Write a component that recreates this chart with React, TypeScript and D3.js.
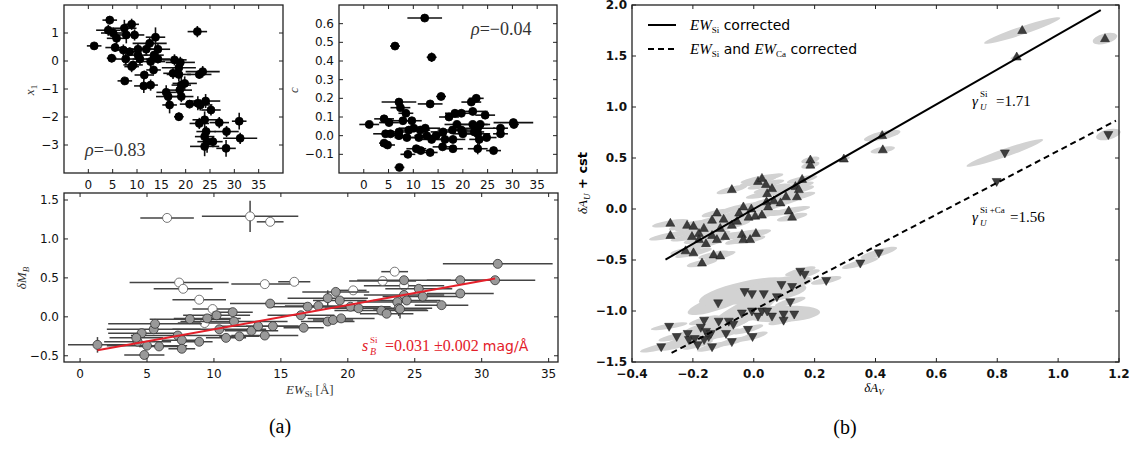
import React from 'react';
import * as d3 from 'd3';

// (a) top-left: EW_Si vs x1   [ew, x1, ewErr, x1Err]
const x1Points = [
  [4.4, 1.46, 1.5, 0.15], [1.2, 0.54, 1.5, 0.1], [4.1, 1.1, 2.5, 0.2], [7.4, 1.17, 2.5, 0.3],
  [8.9, 1.31, 1.5, 0.2], [5.8, 0.81, 2.0, 0.2], [7.8, 0.93, 2.5, 0.3], [9.5, 0.93, 2.0, 0.2],
  [5.5, 0.48, 2.0, 0.15], [7.2, 0.39, 2.0, 0.2], [4.8, 0.1, 1.0, 0.15], [7.7, 0.07, 2.5, 0.2],
  [10.2, 0.42, 3.0, 0.2], [10.6, 0.07, 1.5, 0.2], [12.6, 0.63, 3.5, 0.2], [13.8, 0.85, 2.0, 0.35],
  [11.9, 0.42, 3.0, 0.2], [14.3, 0.42, 2.5, 0.2], [14.3, 0.07, 2.5, 0.15], [12.8, -0.02, 3.0, 0.2],
  [9.2, -0.14, 2.0, 0.15], [8.9, -0.2, 1.5, 0.2], [13.4, -0.32, 1.5, 0.15], [11.5, -0.5, 2.0, 0.15],
  [7.5, -0.71, 1.5, 0.1], [11.4, -0.89, 2.0, 0.25], [12.8, -0.86, 1.5, 0.2], [17.7, 0.04, 2.5, 0.2],
  [18.9, -0.05, 3.0, 0.2], [18.6, -0.24, 3.5, 0.2], [17.4, -0.44, 2.0, 0.2], [18.6, -0.48, 2.5, 0.25],
  [22.8, -0.48, 2.5, 0.15], [23.5, -0.38, 3.5, 0.2], [22.4, 1.05, 2.0, 0.2], [19.8, -0.8, 2.5, 0.25],
  [19.1, -0.86, 2.0, 0.3], [18.8, -1.04, 2.5, 0.2], [16.0, -1.12, 2.0, 0.25], [16.4, -1.27, 2.5, 0.2],
  [19.1, -1.27, 2.5, 0.2], [16.7, -1.57, 1.5, 0.3], [18.6, -1.99, 1.0, 0.15], [20.8, -1.54, 2.0, 0.15],
  [22.5, -1.51, 2.5, 0.25], [23.0, -1.57, 2.5, 0.2], [24.1, -1.43, 3.0, 0.25], [25.2, -1.75, 2.0, 0.2],
  [23.9, -2.1, 2.5, 0.3], [22.8, -2.23, 2.0, 0.2], [26.9, -2.2, 2.0, 0.2], [31.0, -2.15, 1.5, 0.3],
  [28.4, -2.52, 2.5, 0.2], [24.2, -2.52, 2.0, 0.2], [23.9, -2.7, 2.0, 0.2], [24.4, -2.88, 2.0, 0.4],
  [25.6, -2.88, 2.0, 0.2], [28.3, -3.12, 2.0, 0.3], [31.2, -2.76, 3.5, 0.2], [23.9, -3.05, 3.0, 0.35],
  [10.2, 0.21, 2.0, 0.2], [13.5, 0.21, 2.0, 0.15], [5.1, 1.0, 2.5, 0.2], [8.5, 0.33, 2.0, 0.15],
];

// (a) top-middle: EW_Si vs c   [ew, c, ewErr, cErr]
const cPoints = [
  [12.3, 0.63, 3.5, 0.015], [6.3, 0.48, 1.0, 0.02], [13.7, 0.42, 1.0, 0.025], [15.6, 0.21, 1.0, 0.02],
  [7.1, 0.18, 3.5, 0.02], [7.4, 0.15, 2.0, 0.02], [13.4, 0.17, 2.5, 0.02], [8.5, 0.12, 1.5, 0.02],
  [21.7, 0.18, 2.0, 0.02], [22.7, 0.2, 1.5, 0.02], [22.0, 0.13, 3.0, 0.02], [1.1, 0.06, 2.0, 0.01],
  [4.1, 0.09, 2.0, 0.02], [5.1, 0.07, 2.0, 0.02], [7.9, 0.08, 2.5, 0.02], [9.7, 0.08, 2.0, 0.02],
  [4.4, 0.01, 2.5, 0.02], [5.4, 0.01, 2.0, 0.02], [7.1, 0.02, 2.0, 0.02], [9.1, 0.03, 2.5, 0.02],
  [10.1, 0.04, 3.0, 0.02], [7.1, 0.0, 2.0, 0.02], [8.7, -0.01, 2.5, 0.02], [11.4, 0.03, 2.0, 0.02],
  [12.4, 0.04, 3.0, 0.02], [11.1, -0.01, 2.0, 0.02], [12.7, 0.0, 2.5, 0.02], [13.7, -0.02, 2.5, 0.02],
  [4.1, -0.04, 1.0, 0.02], [4.8, -0.05, 1.5, 0.02], [8.9, -0.1, 1.5, 0.02], [10.6, -0.07, 2.0, 0.02],
  [11.5, -0.08, 1.5, 0.02], [13.4, -0.09, 1.5, 0.02], [7.2, -0.17, 1.0, 0.015], [16.0, 0.02, 2.5, 0.02],
  [16.4, -0.02, 2.0, 0.02], [15.9, -0.06, 2.0, 0.02], [18.0, -0.07, 2.0, 0.02], [17.2, 0.1, 2.0, 0.02],
  [18.4, 0.12, 2.0, 0.02], [19.7, 0.12, 2.0, 0.02], [18.8, 0.06, 2.5, 0.02], [17.9, 0.03, 3.0, 0.02],
  [19.7, 0.03, 2.5, 0.02], [20.0, 0.01, 2.0, 0.02], [18.0, -0.02, 2.5, 0.02], [22.0, 0.06, 3.0, 0.02],
  [23.0, 0.04, 3.5, 0.02], [23.5, 0.06, 2.0, 0.02], [24.5, 0.11, 2.0, 0.02], [23.0, 0.01, 2.5, 0.03],
  [23.3, -0.02, 2.0, 0.03], [24.8, -0.01, 2.0, 0.02], [23.0, -0.07, 2.0, 0.03], [26.2, -0.08, 1.5, 0.02],
  [27.6, 0.04, 1.5, 0.02], [27.6, 0.01, 1.5, 0.02], [30.2, 0.07, 4.0, 0.02], [30.3, 0.06, 1.0, 0.02],
  [22.3, 0.02, 2.0, 0.02], [14.6, 0.0, 2.0, 0.02],
];

// (a) bottom: EW_Si vs dM_B   [ew, dMB, ewErr, dMBErr]
const mbOpen = [
  [6.5, 1.27, 2.0, 0.03], [12.7, 1.29, 3.6, 0.2], [14.2, 1.22, 1.0, 0.02], [7.4, 0.44, 3.7, 0.02],
  [7.7, 0.36, 2.2, 0.02], [8.9, 0.22, 2.0, 0.02], [9.9, 0.1, 1.5, 0.02], [9.3, -0.08, 2.0, 0.02],
  [13.8, 0.42, 2.5, 0.02], [16.0, 0.45, 1.2, 0.02], [20.4, 0.34, 1.0, 0.02], [22.6, 0.46, 2.5, 0.02],
  [23.5, 0.58, 1.0, 0.02], [24.2, 0.4, 3.0, 0.02],
];
const mbGray = [
  [1.3, -0.36, 2.2, 0.1], [4.8, -0.49, 1.5, 0.02], [4.3, -0.32, 2.5, 0.03], [4.6, -0.21, 2.5, 0.03],
  [4.2, -0.27, 2.0, 0.03], [5.0, -0.37, 3.0, 0.03], [5.5, -0.16, 3.5, 0.04], [5.6, -0.09, 3.5, 0.03],
  [5.9, -0.38, 1.5, 0.02], [7.3, -0.24, 3.5, 0.03], [7.6, -0.3, 1.5, 0.02], [7.6, -0.41, 1.0, 0.02],
  [8.9, -0.32, 1.0, 0.02], [8.2, -0.03, 3.0, 0.02], [9.5, -0.02, 2.5, 0.02], [10.2, 0.02, 2.5, 0.02],
  [10.4, -0.16, 3.5, 0.02], [10.9, -0.27, 1.5, 0.02], [11.4, 0.06, 1.5, 0.02], [11.5, -0.06, 4.0, 0.03],
  [11.9, -0.25, 1.5, 0.02], [12.8, -0.18, 2.0, 0.03], [13.3, -0.12, 3.0, 0.02], [13.8, -0.24, 2.5, 0.02],
  [14.2, 0.17, 3.0, 0.02], [14.4, -0.12, 2.0, 0.02], [16.7, -0.14, 1.5, 0.02], [16.5, 0.02, 2.5, 0.05],
  [17.0, 0.13, 3.0, 0.02], [17.8, 0.14, 2.5, 0.02], [18.5, 0.24, 3.0, 0.1], [19.1, 0.32, 2.5, 0.02],
  [19.4, 0.21, 2.0, 0.02], [18.5, -0.06, 2.0, 0.02], [18.9, -0.04, 1.5, 0.02], [19.5, -0.02, 2.5, 0.02],
  [20.2, 0.13, 3.0, 0.02], [20.8, 0.11, 2.5, 0.02], [22.5, 0.08, 3.5, 0.02], [22.9, 0.04, 2.0, 0.02],
  [23.7, 0.19, 3.0, 0.02], [23.8, 0.11, 2.5, 0.1], [24.2, 0.28, 3.0, 0.03], [24.4, 0.21, 2.5, 0.02],
  [25.3, 0.36, 2.5, 0.02], [25.6, 0.26, 3.0, 0.02], [24.2, 0.47, 3.5, 0.03], [27.0, 0.15, 2.0, 0.02],
  [28.4, 0.47, 2.5, 0.02], [28.4, 0.3, 2.5, 0.02], [31.0, 0.47, 3.0, 0.02], [31.2, 0.68, 4.1, 0.02],
  [23.9, 0.1, 2.0, 0.12],
];
const mbFit = { slope: 0.031, intercept: -0.47, from: 1.3, to: 31.0 };

// (b) dA_V vs dA_U + cst   [dAV, dAU, errAlongX, errAlongY, minorErr]
const upTri = [
  [-0.274, -0.14, 0.06, 0.03, 0.03], [-0.274, -0.26, 0.07, 0.04, 0.03], [-0.219, -0.16, 0.06, 0.04, 0.03],
  [-0.198, -0.17, 0.06, 0.04, 0.03], [-0.203, -0.27, 0.07, 0.04, 0.03], [-0.224, -0.41, 0.05, 0.03, 0.03],
  [-0.198, -0.43, 0.06, 0.04, 0.03], [-0.17, -0.53, 0.05, 0.03, 0.03], [-0.18, -0.24, 0.06, 0.04, 0.03],
  [-0.164, -0.19, 0.07, 0.04, 0.03], [-0.157, -0.34, 0.06, 0.04, 0.03], [-0.137, -0.26, 0.06, 0.04, 0.03],
  [-0.121, -0.04, 0.05, 0.03, 0.03], [-0.132, -0.45, 0.05, 0.03, 0.03], [-0.11, -0.46, 0.05, 0.04, 0.03],
  [-0.099, -0.1, 0.06, 0.04, 0.03], [-0.094, -0.27, 0.07, 0.04, 0.03], [-0.072, 0.19, 0.05, 0.035, 0.03],
  [-0.072, -0.16, 0.06, 0.04, 0.03], [-0.055, -0.12, 0.07, 0.04, 0.03], [-0.048, -0.04, 0.06, 0.04, 0.03],
  [-0.034, 0.02, 0.07, 0.04, 0.03], [-0.039, -0.25, 0.06, 0.04, 0.03], [-0.034, -0.3, 0.06, 0.04, 0.03],
  [-0.012, -0.3, 0.05, 0.03, 0.03], [-0.017, -0.08, 0.06, 0.04, 0.03], [-0.008, 0.0, 0.07, 0.04, 0.03],
  [0.007, -0.24, 0.05, 0.03, 0.03], [0.005, -0.07, 0.06, 0.04, 0.03], [0.027, -0.06, 0.06, 0.04, 0.03],
  [0.014, 0.27, 0.06, 0.04, 0.03], [0.027, 0.3, 0.07, 0.04, 0.03], [0.04, 0.24, 0.06, 0.04, 0.03],
  [0.044, 0.15, 0.07, 0.04, 0.03], [0.042, 0.07, 0.06, 0.04, 0.03], [0.047, 0.02, 0.06, 0.04, 0.03],
  [0.06, 0.2, 0.06, 0.04, 0.03], [0.066, 0.08, 0.07, 0.04, 0.03], [0.088, 0.06, 0.06, 0.04, 0.03],
  [0.106, 0.12, 0.06, 0.04, 0.03], [0.115, -0.02, 0.07, 0.04, 0.03], [0.126, -0.08, 0.05, 0.03, 0.03],
  [0.137, 0.22, 0.06, 0.04, 0.03], [0.148, 0.19, 0.05, 0.03, 0.03], [0.142, 0.12, 0.06, 0.04, 0.03],
  [0.159, 0.29, 0.05, 0.03, 0.03], [0.186, 0.48, 0.03, 0.02, 0.03], [0.186, 0.43, 0.03, 0.02, 0.03],
  [0.296, 0.49, 0.02, 0.02, 0.02], [0.424, 0.58, 0.04, 0.02, 0.03], [-0.137, -0.11, 0.06, 0.04, 0.03],
  [-0.11, -0.19, 0.06, 0.04, 0.03], [-0.121, -0.3, 0.05, 0.04, 0.03], [-0.18, -0.3, 0.05, 0.03, 0.03],
  [0.882, 1.75, 0.125, 0.125, 0.04], [0.864, 1.49, 0.02, 0.02, 0.02], [1.154, 1.67, 0.04, 0.03, 0.05],
  [0.422, 0.72, 0.06, 0.04, 0.04],
];
const downTri = [
  [-0.304, -1.35, 0.07, 0.05, 0.03], [-0.278, -1.15, 0.06, 0.03, 0.025], [-0.253, -1.25, 0.06, 0.04, 0.03],
  [-0.217, -1.22, 0.05, 0.04, 0.03], [-0.213, -1.28, 0.1, 0.1, 0.05], [-0.184, -1.33, 0.05, 0.04, 0.03],
  [-0.163, -1.09, 0.05, 0.04, 0.03], [-0.174, -1.16, 0.05, 0.04, 0.03], [-0.157, -1.2, 0.05, 0.04, 0.03],
  [-0.148, -1.25, 0.05, 0.04, 0.03], [-0.137, -1.35, 0.05, 0.04, 0.03], [-0.115, -1.1, 0.05, 0.04, 0.03],
  [-0.117, -0.92, 0.1, 0.1, 0.07], [-0.091, -1.22, 0.05, 0.04, 0.03], [-0.082, -1.1, 0.05, 0.04, 0.03],
  [-0.072, -1.3, 0.05, 0.04, 0.03], [-0.067, -1.13, 0.05, 0.04, 0.03], [-0.039, -1.02, 0.12, 0.2, 0.1],
  [-0.03, -0.81, 0.15, 0.1, 0.1], [-0.006, -0.83, 0.05, 0.04, 0.03], [-0.019, -1.18, 0.05, 0.04, 0.03],
  [-0.004, -1.25, 0.05, 0.04, 0.03], [-0.006, -1.0, 0.05, 0.04, 0.03], [0.014, -1.05, 0.05, 0.04, 0.03],
  [0.033, -0.83, 0.14, 0.06, 0.09], [0.027, -1.0, 0.05, 0.04, 0.03], [0.06, -1.05, 0.05, 0.04, 0.03],
  [0.076, -0.86, 0.05, 0.04, 0.03], [0.091, -0.74, 0.1, 0.05, 0.07], [0.098, -1.03, 0.12, 0.02, 0.08],
  [0.098, -1.09, 0.05, 0.04, 0.03], [0.12, -0.91, 0.05, 0.04, 0.03], [0.133, -1.03, 0.05, 0.04, 0.03],
  [0.126, -0.76, 0.05, 0.04, 0.03], [0.153, -0.61, 0.05, 0.04, 0.03], [0.167, -0.64, 0.05, 0.04, 0.03],
  [0.238, -0.7, 0.05, 0.03, 0.03], [0.35, -0.53, 0.06, 0.05, 0.03], [0.411, -0.43, 0.06, 0.05, 0.035],
  [-0.163, -1.28, 0.05, 0.04, 0.03], [-0.141, -1.22, 0.05, 0.04, 0.03], [-0.194, -1.27, 0.05, 0.04, 0.03],
  [0.044, -1.0, 0.05, 0.04, 0.03], [0.825, 0.55, 0.126, 0.13, 0.04], [0.798, 0.27, 0.01, 0.01, 0.01],
  [1.165, 0.73, 0.04, 0.03, 0.05],
];
const fitSi = { slope: 1.71, intercept: 0.0, from: -0.29, to: 1.14 };
const fitSiCa = { slope: 1.56, intercept: -0.99, from: -0.27, to: 1.19 };

const sans = 'DejaVu Sans, sans-serif';
const serif = 'Liberation Serif, DejaVu Serif, serif';

type Box = { left: number; right: number; top: number; bottom: number };
const boxTL: Box = { left: 64, right: 283, top: 5, bottom: 173 };
const boxTM: Box = { left: 339, right: 557, top: 5, bottom: 173 };
const boxB: Box = { left: 64, right: 558, top: 193, bottom: 362 };
const boxR: Box = { left: 632, right: 1119, top: 5, bottom: 362 };

function Axes({ box, xs, ys, xTicks, yTicks, fx, fy, bold = false }: any) {
  const tl = 4;
  const fw = bold ? 'bold' : 'normal';
  return (
    <g>
      <rect x={box.left} y={box.top} width={box.right - box.left} height={box.bottom - box.top}
        fill="none" stroke="#222" strokeWidth={1.3} />
      {xTicks.map((t: number, i: number) => (
        <g key={'x' + i}>
          <line x1={xs(t)} x2={xs(t)} y1={box.bottom} y2={box.bottom - tl} stroke="#222" />
          <line x1={xs(t)} x2={xs(t)} y1={box.top} y2={box.top + tl} stroke="#222" />
          <text x={xs(t)} y={box.bottom + 16} textAnchor="middle" fontSize={12} fontWeight={fw}
            fontFamily={sans} fill="#111">{fx(t)}</text>
        </g>
      ))}
      {yTicks.map((t: number, i: number) => (
        <g key={'y' + i}>
          <line x1={box.left} x2={box.left + tl} y1={ys(t)} y2={ys(t)} stroke="#222" />
          <line x1={box.right} x2={box.right - tl} y1={ys(t)} y2={ys(t)} stroke="#222" />
          <text x={box.left - 5} y={ys(t) + 4} textAnchor="end" fontSize={12} fontWeight={fw}
            fontFamily={sans} fill="#111">{fy(t)}</text>
        </g>
      ))}
    </g>
  );
}

function ErrPoints({ pts, xs, ys, r, fill, stroke, barColor, barWidth }: any) {
  return (
    <g>
      {pts.map((p: number[], i: number) => (
        <g key={'b' + i} stroke={barColor} strokeWidth={barWidth}>
          <line x1={xs(p[0] - p[2])} x2={xs(p[0] + p[2])} y1={ys(p[1])} y2={ys(p[1])} />
          <line x1={xs(p[0])} x2={xs(p[0])} y1={ys(p[1] - p[3])} y2={ys(p[1] + p[3])} />
        </g>
      ))}
      {pts.map((p: number[], i: number) => (
        <circle key={'c' + i} cx={xs(p[0])} cy={ys(p[1])} r={r} fill={fill} stroke={stroke} strokeWidth={0.8} />
      ))}
    </g>
  );
}

export default function App() {
  const W = 1141, H = 450;

  const xTL = d3.scaleLinear().domain([-5, 40]).range([boxTL.left, boxTL.right]);
  const yTL = d3.scaleLinear().domain([-4, 2]).range([boxTL.bottom, boxTL.top]);
  const xTM = d3.scaleLinear().domain([-5, 39]).range([boxTM.left, boxTM.right]);
  const yTM = d3.scaleLinear().domain([-0.2, 0.7]).range([boxTM.bottom, boxTM.top]);
  const xB = d3.scaleLinear().domain([-1.2, 35.7]).range([boxB.left, boxB.right]);
  const yB = d3.scaleLinear().domain([-0.58, 1.59]).range([boxB.bottom, boxB.top]);
  const xR = d3.scaleLinear().domain([-0.4, 1.2]).range([boxR.left, boxR.right]);
  const yR = d3.scaleLinear().domain([-1.5, 2.0]).range([boxR.bottom, boxR.top]);

  const ewTicks = d3.range(0, 36, 5);
  const f0 = d3.format('d');
  const f1 = d3.format('.1f');

  const ellipse = (p: number[], i: number) => {
    const cx = xR(p[0]), cy = yR(p[1]);
    const dx = xR(p[0] + p[2]) - cx;
    const dy = yR(p[1] + p[3]) - cy;
    const rx = Math.sqrt(dx * dx + dy * dy);
    const ry = yR(0) - yR(p[4]);
    const ang = (Math.atan2(dy, dx) * 180) / Math.PI;
    return <ellipse key={'e' + i} cx={cx} cy={cy} rx={rx} ry={ry} fill="#d2d2d2"
      transform={`rotate(${ang},${cx},${cy})`} />;
  };
  const tri = (p: number[], i: number, up: boolean) => {
    const cx = xR(p[0]), cy = yR(p[1]);
    const d = up ? 'M0,-5L4.5,3L-4.5,3Z' : 'M0,5L4.5,-3L-4.5,-3Z';
    return <path key={'t' + i} d={d} transform={`translate(${cx},${cy})`} fill="#3d3d3d" stroke="#1a1a1a" strokeWidth={0.5} />;
  };
  const fitLine = (f: any, xs: any, ys: any) => ({
    x1: xs(f.from), y1: ys(f.intercept + f.slope * f.from),
    x2: xs(f.to), y2: ys(f.intercept + f.slope * f.to),
  });
  const red = '#e3202a';
  const lB = fitLine(mbFit, xB, yB);
  const lS = fitLine(fitSi, xR, yR);
  const lC = fitLine(fitSiCa, xR, yR);

  return (
    <div style={{ position: 'fixed', left: 0, top: 0 }}>
      <svg width={W} height={H} style={{ display: 'block', background: '#fff' }}>
        {/* top-left */}
        <ErrPoints pts={x1Points} xs={xTL} ys={yTL} r={4} fill="#000" stroke="#000" barColor="#111" barWidth={1.6} />
        <Axes box={boxTL} xs={xTL} ys={yTL} xTicks={ewTicks} yTicks={[-3, -2, -1, 0, 1]} fx={f0} fy={f0} />
        <text x={85} y={156} fontFamily={serif} fontSize={18} fill="#333">
          <tspan fontStyle="italic">ρ</tspan>=−0.83
        </text>
        <text transform="translate(34,90) rotate(-90)" textAnchor="middle" fontFamily={serif} fontSize={13} fontStyle="italic" fill="#333">
          x<tspan dy={3} fontSize={9} fontStyle="normal">1</tspan>
        </text>

        {/* top-middle */}
        <ErrPoints pts={cPoints} xs={xTM} ys={yTM} r={4} fill="#000" stroke="#000" barColor="#111" barWidth={1.6} />
        <Axes box={boxTM} xs={xTM} ys={yTM} xTicks={ewTicks} yTicks={d3.range(-0.1, 0.65, 0.1)} fx={f0} fy={f1} />
        <text x={471} y={35} fontFamily={serif} fontSize={18} fill="#333">
          <tspan fontStyle="italic">ρ</tspan>=−0.04
        </text>
        <text transform="translate(298,90) rotate(-90)" textAnchor="middle" fontFamily={serif} fontSize={13} fontStyle="italic" fill="#333">c</text>

        {/* bottom */}
        <ErrPoints pts={mbOpen} xs={xB} ys={yB} r={4.5} fill="#fff" stroke="#555" barColor="#444" barWidth={1.5} />
        <ErrPoints pts={mbGray} xs={xB} ys={yB} r={4.5} fill="#999" stroke="#333" barColor="#444" barWidth={1.5} />
        <line {...lB} stroke={red} strokeWidth={2} />
        <Axes box={boxB} xs={xB} ys={yB} xTicks={ewTicks} yTicks={[-0.5, 0, 0.5, 1.0, 1.5]} fx={f0} fy={f1} />
        <text x={362} y={351} fontFamily={serif} fontSize={16} fontStyle="italic" fill={red}>s</text>
        <text x={370} y={343} fontFamily={serif} fontSize={9} fill={red}>Si</text>
        <text x={370} y={355} fontFamily={serif} fontSize={10} fontStyle="italic" fill={red}>B</text>
        <text x={385} y={351} fontFamily={serif} fontSize={16} fill={red}>=0.031 ±0.002 <tspan fontFamily={sans} fontSize={14}>mag/Å</tspan></text>
        <text transform="translate(26,278) rotate(-90)" textAnchor="middle" fontFamily={serif} fontSize={13} fontStyle="italic" fill="#333">
          δM<tspan dy={3} fontSize={9}>B</tspan>
        </text>
        <text x={286} y={394} fontFamily={serif} fontSize={13} fill="#333">
          <tspan fontStyle="italic">EW</tspan><tspan dy={3} fontSize={9}>Si</tspan><tspan dy={-3}> [Å]</tspan>
        </text>
        <text x={280} y={433} textAnchor="middle" fontFamily={serif} fontSize={20} fill="#000">(a)</text>

        {/* right panel */}
        {upTri.map((p, i) => ellipse(p, i))}
        {downTri.map((p, i) => ellipse(p, i + 100))}
        {upTri.map((p, i) => tri(p, i, true))}
        {downTri.map((p, i) => tri(p, i + 100, false))}
        <line {...lS} stroke="#000" strokeWidth={2} />
        <line {...lC} stroke="#000" strokeWidth={2} strokeDasharray="6,4" />
        <Axes box={boxR} xs={xR} ys={yR} xTicks={d3.range(-0.4, 1.21, 0.2)} yTicks={d3.range(-1.5, 2.01, 0.5)} fx={f1} fy={f1} bold />
        <line x1={648} x2={676} y1={25} y2={25} stroke="#000" strokeWidth={2} />
        <line x1={648} x2={676} y1={49} y2={49} stroke="#000" strokeWidth={2} strokeDasharray="6,4" />
        <text x={690} y={30} fontFamily={sans} fontSize={14} fill="#000">
          <tspan fontFamily={serif} fontStyle="italic" fontSize={15}>EW</tspan><tspan dy={3} fontFamily={serif} fontSize={9}>Si</tspan><tspan dy={-3}> corrected</tspan>
        </text>
        <text x={690} y={54} fontFamily={sans} fontSize={14} fill="#000">
          <tspan fontFamily={serif} fontStyle="italic" fontSize={15}>EW</tspan><tspan dy={3} fontFamily={serif} fontSize={9}>Si</tspan><tspan dy={-3}> and </tspan>
          <tspan fontFamily={serif} fontStyle="italic" fontSize={15}>EW</tspan><tspan dy={3} fontFamily={serif} fontSize={9}>Ca</tspan><tspan dy={-3}> corrected</tspan>
        </text>
        <text x={972} y={106} fontFamily={serif} fontSize={15} fill="#000">
          <tspan fontStyle="italic">γ</tspan>
        </text>
        <text x={980} y={97} fontFamily={serif} fontSize={9} fill="#000">Si</text>
        <text x={980} y={110} fontFamily={serif} fontSize={9} fontStyle="italic" fill="#000">U</text>
        <text x={996} y={106} fontFamily={serif} fontSize={15} fill="#000">=1.71</text>
        <text x={972} y={222} fontFamily={serif} fontSize={15} fill="#000">
          <tspan fontStyle="italic">γ</tspan>
        </text>
        <text x={980} y={213} fontFamily={serif} fontSize={9} fill="#000">Si +Ca</text>
        <text x={980} y={226} fontFamily={serif} fontSize={9} fontStyle="italic" fill="#000">U</text>
        <text x={1010} y={222} fontFamily={serif} fontSize={15} fill="#000">=1.56</text>
        <text x={874} y={392} textAnchor="middle" fontFamily={serif} fontSize={13} fontStyle="italic" fill="#000">
          δA<tspan dy={3} fontSize={9}>V</tspan>
        </text>
        <text transform="translate(587,183) rotate(-90)" textAnchor="middle" fontFamily={sans} fontSize={13} fontWeight="bold" fill="#000">
          <tspan fontFamily={serif} fontStyle="italic" fontWeight="normal">δA</tspan><tspan dy={3} fontSize={9} fontFamily={serif} fontStyle="italic" fontWeight="normal">U</tspan><tspan dy={-3}> + cst</tspan>
        </text>
        <text x={845} y={434} textAnchor="middle" fontFamily={serif} fontSize={20} fill="#000">(b)</text>
      </svg>
    </div>
  );
}
